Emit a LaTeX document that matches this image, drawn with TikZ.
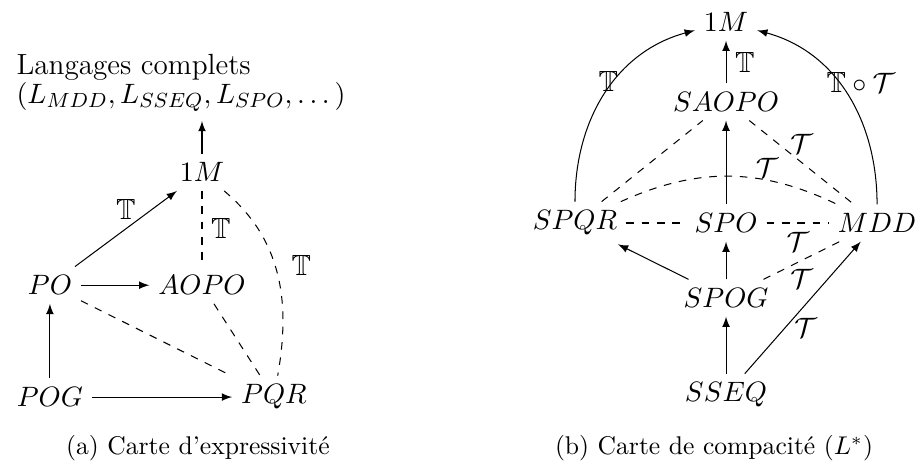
\documentclass[tikz,border=0pt]{standalone}
\usepackage{amsmath, amssymb}
\usepackage{tikz}
\usetikzlibrary{arrows, positioning}

\begin{document}
\begin{tikzpicture}[node distance=40pt, on grid, auto, >=latex,
    every node/.style={font=\fontsize{11.4}{13.7}\selectfont},
    caption/.style={font=\normalsize}]
    \useasboundingbox (0,0) rectangle (358.2pt,-182.8pt);

    % (a) expressivite
    \node (pog) at (19.5pt,-155.1pt) {$POG$};
    \node (pqr) [right=87.5pt of pog] {$PQR$};
    \node (po) [above=43.7pt of pog] {$PO$};
    \node (aopo) [right=59.4pt of po] {$AOPO$};
    \node (m1) [above=44.1pt of aopo] {$1M$};
    \node (lang) [above left=34.8pt and 8.2pt of m1, align=left, font=\fontsize{11.4}{11.3}\selectfont] {Langages complets\\ $(L_{MDD}, L_{SSEQ}, L_{SPO}, \dots)$};

    \draw [->] (pog) -- (pqr);
    \draw [->] (pog) -- (po);
    \draw [->] (po) -- (aopo);
    \draw [->] (po) -- node [above] {$\mathbb{T}$} (m1);
    \draw [->] (m1) -- (m1 |- lang.south);
    \draw [dashed] (m1) -- node {$\mathbb{T}$} (aopo);
    \draw [dashed] (m1) to[out=-40, in=80] node [pos=.56, xshift=1pt] {$\mathbb{T}$} (pqr);
    \draw [dashed] (po) -- (pqr);
    \draw [dashed] (aopo) -- (pqr);

    % (b) compacite
    \node (sseq) at (283.6pt,-154.3pt) {$SSEQ$};
    \node (spog) [above=37.9pt of sseq] {$SPOG$};
    \node (spo) [above=29.3pt of spog] {$SPO$};
    \node (spqr) [left=59pt of spo] {$SPQR$};
    \node (mdd) [right=59pt of spo] {$MDD$};
    \node (saopo) [above=47.3pt of spo] {$SAOPO$};
    \node (m1b) [above=31.2pt of saopo] {$1M$};

    \draw [->] (sseq) -- (spog);
    \draw [->] (spog) -- (spo);
    \draw [->] (spog) -- (spqr);
    \draw [->] (sseq) -- node [pos=.35, right] {$\mathcal{T}$} (mdd);
    \draw [->] (spo) -- (saopo);
    \draw [->] (saopo) -- node [swap] {$\mathbb{T}$} (m1b);
    \draw [->] (spqr) to[out=90, in=195] node [pos=.57, anchor=east, xshift=5pt] {$\mathbb{T}$} (m1b);
    \draw [->] (mdd) to[out=90, in=-15] node [pos=.57, anchor=west, xshift=-8pt] {$\mathbb{T}\circ\mathcal{T}$} (m1b);
    \draw [dashed] (spqr) -- (saopo);
    \draw [dashed] (saopo) -- node [above] {$\mathcal{T}$} (mdd);
    \draw [dashed] (spqr) to[bend left=25] node [pos=.68, above, inner sep=1pt] {$\mathcal{T}$} (mdd);
    \draw [dashed] (spqr) -- (spo);
    \draw [dashed] (spo) -- node [swap] {$\mathcal{T}$} (mdd);
    \draw [dashed] (spog) -- node [below] {$\mathcal{T}$} (mdd);

    \node (capa) [caption] at (77.3pt,-175pt) {(a) Carte d’expressivité};
    \node (capb) [caption] at (278.9pt,-175pt) {(b) Carte de compacité ($L^*$)};
\end{tikzpicture}
\end{document}
